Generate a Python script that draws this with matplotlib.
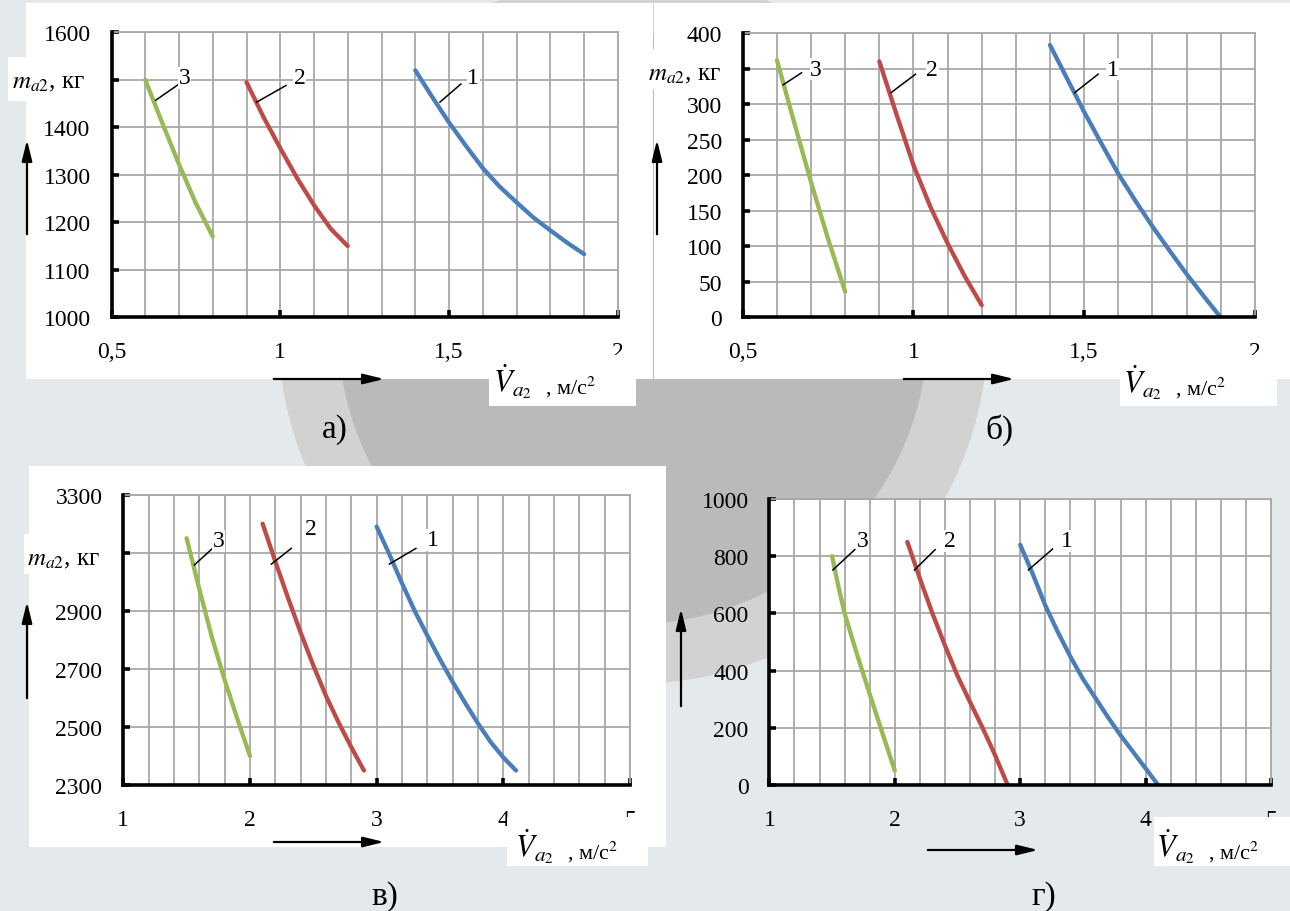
import matplotlib
matplotlib.use('Agg')
import matplotlib.pyplot as plt
from matplotlib.patches import Rectangle, Ellipse, FancyArrowPatch
from matplotlib.ticker import MultipleLocator, FixedLocator

plt.rcParams['font.family'] = ['Liberation Serif', 'DejaVu Serif']
plt.rcParams['mathtext.fontset'] = 'stix'

W, H = 1290, 912

# --- данные: ускорение V'a2 (м/с2) и масса ma2 (кг), кривые 1, 2, 3 ---
# а)
a_x1 = [1.4, 1.45, 1.5, 1.55, 1.6, 1.65, 1.7, 1.75, 1.8, 1.85, 1.9]
a_y1 = [1520, 1464, 1410, 1361, 1314, 1275, 1242, 1210, 1183, 1157, 1133]
a_x2 = [0.9, 0.95, 1.0, 1.05, 1.1, 1.15, 1.2]
a_y2 = [1495, 1422, 1356, 1293, 1236, 1186, 1150]
a_x3 = [0.6, 0.65, 0.7, 0.75, 0.8]
a_y3 = [1500, 1410, 1322, 1240, 1170]
# б)
b_x1 = [1.4, 1.45, 1.5, 1.55, 1.6, 1.65, 1.7, 1.75, 1.8, 1.85, 1.9]
b_y1 = [383, 336, 289, 245, 202, 164, 128, 94, 61, 30, 0]
b_x2 = [0.9, 0.95, 1.0, 1.05, 1.1, 1.15, 1.2]
b_y2 = [360, 286, 214, 155, 104, 58, 17]
b_x3 = [0.6, 0.65, 0.7, 0.75, 0.8]
b_y3 = [362, 275, 190, 110, 36]
# в)
c_x1 = [3.0, 3.1, 3.2, 3.3, 3.4, 3.5, 3.6, 3.7, 3.8, 3.9, 4.0, 4.1]
c_y1 = [3190, 3095, 2995, 2900, 2815, 2733, 2655, 2582, 2512, 2448, 2395, 2350]
c_x2 = [2.1, 2.2, 2.3, 2.4, 2.5, 2.6, 2.7, 2.8, 2.9]
c_y2 = [3200, 3070, 2945, 2825, 2712, 2607, 2515, 2430, 2350]
c_x3 = [1.5, 1.6, 1.7, 1.8, 1.9, 2.0]
c_y3 = [3150, 2975, 2808, 2662, 2528, 2400]
# г)
d_x1 = [3.0, 3.1, 3.2, 3.3, 3.4, 3.5, 3.6, 3.7, 3.8, 3.9, 4.0, 4.1]
d_y1 = [840, 738, 628, 535, 449, 371, 304, 237, 174, 116, 58, 0]
d_x2 = [2.1, 2.2, 2.3, 2.4, 2.5, 2.6, 2.7, 2.8, 2.9]
d_y2 = [850, 722, 600, 488, 382, 290, 200, 104, 0]
d_x3 = [1.5, 1.55, 1.6, 1.7, 1.8, 1.9, 2.0]
d_y3 = [800, 695, 600, 455, 318, 183, 50]

# подписи осей
a_xticks = [0.5, 1, 1.5, 2]
a_xlabels = ['0,5', '1', '1,5', '2']
a_yticks = [1000, 1100, 1200, 1300, 1400, 1500, 1600]
a_ylabels = ['1000', '1100', '1200', '1300', '1400', '', '1600']
b_yticks = [0, 50, 100, 150, 200, 250, 300, 350, 400]
b_ylabels = ['0', '50', '100', '150', '200', '250', '300', '', '400']
c_xticks = [1, 2, 3, 4, 5]
c_xlabels = ['1', '2', '3', '4', '5']
c_yticks = [2300, 2500, 2700, 2900, 3100, 3300]
c_ylabels = ['2300', '2500', '2700', '2900', '', '3300']
d_yticks = [0, 200, 400, 600, 800, 1000]
d_ylabels = ['0', '200', '400', '600', '800', '1000']

# выноски: (x0, y0, x1, y1, x текста, y текста)
a_marks = {'1': (1.473, 1453, 1.535, 1491, 1.572, 1504),
           '2': (0.93, 1453, 1.017, 1488, 1.057, 1504),
           '3': (0.631, 1457, 0.70, 1491, 0.716, 1504)}
b_marks = {'1': (1.472, 316, 1.541, 342, 1.583, 349),
           '2': (0.934, 316, 1.006, 342, 1.055, 349),
           '3': (0.618, 327, 0.672, 344, 0.715, 349)}
c_marks = {'1': (3.1, 3061, 3.31, 3115, 3.442, 3144),
           '2': (2.169, 3061, 2.326, 3115, 2.478, 3182),
           '3': (1.561, 3058, 1.704, 3115, 1.754, 3142)}
d_marks = {'1': (3.066, 752, 3.258, 825, 3.374, 854),
           '2': (2.157, 752, 2.322, 823, 2.441, 854),
           '3': (1.506, 752, 1.681, 823, 1.744, 854)}

BLUE, RED, GREEN = '#4a7ebb', '#be4b48', '#98b954'
GRID = '#a8a8a8'


def px(x, y):
    return x / W, 1 - y / H


def box(x0, y0, x1, y1, z):
    r = Rectangle(px(x0, y1), (x1 - x0) / W, (y1 - y0) / H,
                  transform=fig.transFigure, facecolor='white',
                  edgecolor='none', zorder=z)
    fig.add_artist(r)


def arrow(x0, y0, x1, y1):
    a = FancyArrowPatch(px(x0, y0), px(x1, y1), transform=fig.transFigure,
                        arrowstyle='-|>,head_length=0.9,head_width=0.22',
                        mutation_scale=14, lw=1.6, color='black', zorder=6)
    fig.add_artist(a)


def panel(rect, xlim, ylim, xstep, xticks, xlabels, yticks, ylabels, curves, marks):
    l, t, r, b = rect
    ax = fig.add_axes([l / W, 1 - b / H, (r - l) / W, (b - t) / H])
    ax.set_facecolor('white')
    ax.set_xlim(xlim)
    ax.set_ylim(ylim)
    ax.xaxis.set_major_locator(FixedLocator(xticks))
    ax.xaxis.set_minor_locator(MultipleLocator(xstep))
    ax.set_xticklabels(xlabels)
    ax.yaxis.set_major_locator(FixedLocator(yticks))
    ax.set_yticklabels(ylabels)
    ax.set_axisbelow(True)
    ax.grid(which='both', axis='x', color=GRID, lw=1.3)
    ax.grid(which='major', axis='y', color=GRID, lw=1.3)
    for s in ['left', 'bottom']:
        ax.spines[s].set_color('black')
        ax.spines[s].set_linewidth(2.6)
        ax.spines[s].set_zorder(4)
    for s in ['top', 'right']:
        ax.spines[s].set_color(GRID)
        ax.spines[s].set_linewidth(1.3)
    ax.tick_params(which='major', direction='in', length=5, width=2.6,
                   labelsize=17, pad=15, colors='black')
    ax.tick_params(axis='x', which='major', pad=17)
    ax.tick_params(which='minor', length=0)
    for (x, y, c) in curves:
        ax.plot(x, y, color=c, lw=3.1, solid_capstyle='round',
                solid_joinstyle='round', zorder=3)
    for k, (x0, y0, x1, y1, tx, ty) in marks.items():
        ax.plot([x0, x1], [y0, y1], color='black', lw=1.1, zorder=4)
        ax.text(tx, ty, k, fontsize=17, ha='center', va='center', zorder=5,
                bbox=dict(facecolor='white', edgecolor='none', pad=0.3))
    return ax


def xlabel(x, y):
    fig.text(x / W, 1 - y / H, r'$\dot{V}_{a_2}$', fontsize=22,
             ha='left', va='baseline', zorder=7)
    fig.text((x + 52) / W, 1 - (y + 2) / H, ', м/с$^2$', fontsize=16,
             ha='left', va='baseline', zorder=7)


def ylabel(x, y):
    fig.text(x / W, 1 - y / H, r'$m_{a2}$, кг', fontsize=18,
             ha='left', va='baseline', zorder=7)


fig = plt.figure(figsize=(W / 100, H / 100), dpi=100)
fig.patch.set_facecolor('#e4eaec')

# эмблема на фоне
fig.add_artist(Ellipse(px(633, 330), 2 * 355 / W, 2 * 355 / H,
                       transform=fig.transFigure, facecolor='#d2d2d2',
                       edgecolor='none', zorder=-5))
fig.add_artist(Ellipse(px(633, 330), 2 * 295 / W, 2 * 295 / H,
                       transform=fig.transFigure, facecolor='#bababa',
                       edgecolor='none', zorder=-4))

# белые подложки рисунков
box(26, 4, 653, 380, -2)
box(654, 4, 1290, 380, -2)
box(29, 467, 666, 848, -2)

panel((111.5, 33.3, 617.8, 318.3), (0.5, 2), (1000, 1600), 0.1,
      a_xticks, a_xlabels, a_yticks, a_ylabels,
      [(a_x1, a_y1, BLUE), (a_x2, a_y2, RED), (a_x3, a_y3, GREEN)], a_marks)
panel((742.8, 34, 1254.8, 318.3), (0.5, 2), (0, 400), 0.1,
      a_xticks, a_xlabels, b_yticks, b_ylabels,
      [(b_x1, b_y1, BLUE), (b_x2, b_y2, RED), (b_x3, b_y3, GREEN)], b_marks)
panel((123.3, 495.7, 630, 786), (1, 5), (2300, 3300), 0.2,
      c_xticks, c_xlabels, c_yticks, c_ylabels,
      [(c_x1, c_y1, BLUE), (c_x2, c_y2, RED), (c_x3, c_y3, GREEN)], c_marks)
panel((769.4, 500, 1271, 786), (1, 5), (0, 1000), 0.2,
      c_xticks, c_xlabels, d_yticks, d_ylabels,
      [(d_x1, d_y1, BLUE), (d_x2, d_y2, RED), (d_x3, d_y3, GREEN)], d_marks)

# подложки под подписи осей (перекрывают край цифр)
box(489, 380, 636, 407, 5)
box(1120, 380, 1277, 407, 5)
box(507, 818, 648, 867, 5)
box(1154, 818, 1290, 867, 5)
box(600, 356, 640, 364, 5)
box(1235, 356, 1275, 364, 5)
box(8, 58, 105, 102, 5)
box(640, 50, 740, 90, 5)
box(24, 535, 118, 575, 5)

xlabel(493, 392)
xlabel(1123, 393)
xlabel(515, 857)
xlabel(1156, 857)
ylabel(12, 88)
ylabel(648, 80)
ylabel(27, 565)

arrow(27, 238, 27, 138)
arrow(271, 380, 387, 380)
arrow(657, 238, 657, 138)
arrow(901, 380, 1017, 380)
arrow(27, 702, 27, 600)
arrow(271, 843, 387, 843)
arrow(681, 710, 681, 607)
arrow(925, 851, 1041, 851)

for t, x, y in [('а)', 335, 430), ('б)', 999, 430), ('в)', 385, 897), ('г)', 1044, 897)]:
    fig.text(x / W, 1 - y / H, t, fontsize=24, ha='center', va='center', zorder=7)

fig.savefig('out.png', dpi=100, facecolor=fig.get_facecolor())
